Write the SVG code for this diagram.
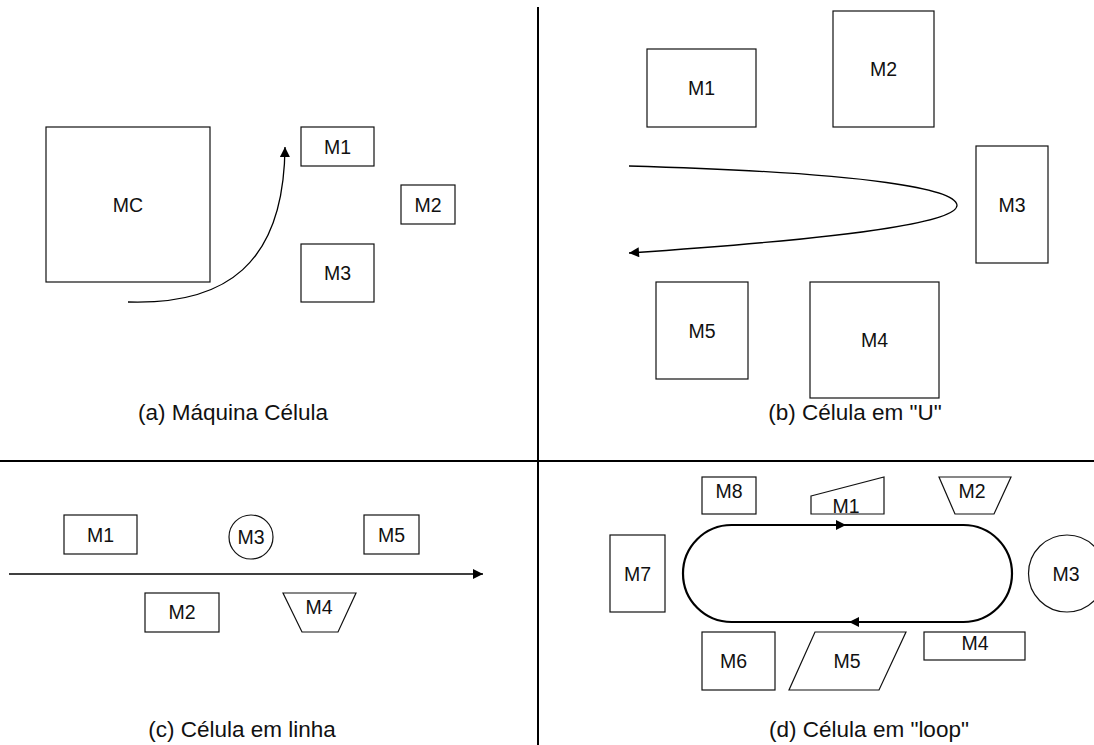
<svg xmlns="http://www.w3.org/2000/svg" width="1094" height="745" viewBox="0 0 1094 745">
  <style>
    .box { fill: #fff; stroke: #111; stroke-width: 1.2; }
    .lbl { font-family: "Liberation Sans", Arial, sans-serif; font-size: 19.5px; fill: #111; text-anchor: middle; dominant-baseline: central; }
    .cap { font-family: "Liberation Sans", Arial, sans-serif; font-size: 22.5px; fill: #111; text-anchor: middle; }
    .flow { fill: none; stroke: #000; stroke-width: 1.3; }
    .loop { fill: none; stroke: #000; stroke-width: 2.2; }
    .div { stroke: #000; stroke-width: 2; }
  </style>
  <defs>
    <marker id="arrow" viewBox="0 0 10 10" refX="10" refY="5" markerWidth="11" markerHeight="10" markerUnits="userSpaceOnUse" orient="auto">
      <path d="M0,0 L10,5 L0,10 Z" fill="#000"/>
    </marker>
  </defs>
  <rect width="1094" height="745" fill="#fff"/>

  <!-- quadrant dividers -->
  <g id="dividers">
    <line class="div" x1="538" y1="7" x2="538" y2="745"/>
    <line class="div" x1="0" y1="461" x2="1094" y2="461"/>
  </g>

  <!-- (a) machine cell -->
  <g id="a-MC"><rect class="box" x="46" y="127" width="164" height="155"/><text class="lbl" x="128" y="204.5">MC</text></g>
  <g id="a-M1"><rect class="box" x="301" y="127" width="73" height="39"/><text class="lbl" x="337.5" y="146.5">M1</text></g>
  <g id="a-M2"><rect class="box" x="401" y="185" width="54" height="39"/><text class="lbl" x="428" y="204.5">M2</text></g>
  <g id="a-M3"><rect class="box" x="301" y="244" width="73" height="58"/><text class="lbl" x="337.5" y="273">M3</text></g>
  <text class="cap" x="233" y="420">(a) Máquina Célula</text>

  <!-- (b) U-shaped cell -->
  <g id="b-M1"><rect class="box" x="647" y="49" width="109" height="78"/><text class="lbl" x="701.5" y="88">M1</text></g>
  <g id="b-M2"><rect class="box" x="833" y="11" width="101" height="116"/><text class="lbl" x="883.5" y="69">M2</text></g>
  <g id="b-M3"><rect class="box" x="976" y="146" width="72" height="117"/><text class="lbl" x="1012" y="204.5">M3</text></g>
  <g id="b-M5"><rect class="box" x="656" y="282" width="92" height="97"/><text class="lbl" x="702" y="330.5">M5</text></g>
  <g id="b-M4"><rect class="box" x="810" y="282" width="129" height="116"/><text class="lbl" x="874.5" y="340">M4</text></g>
  <text class="cap" x="855" y="420">(b) Célula em "U"</text>

  <!-- (c) line cell -->
  <g id="c-M1"><rect class="box" x="64" y="515" width="73" height="39"/><text class="lbl" x="100.5" y="535">M1</text></g>
  <g id="c-M3"><circle class="box" cx="251" cy="537" r="22"/><text class="lbl" x="251" y="537">M3</text></g>
  <g id="c-M5"><rect class="box" x="364" y="515" width="55" height="39"/><text class="lbl" x="391.5" y="535">M5</text></g>
  <g id="c-M2"><rect class="box" x="145" y="593" width="74" height="39"/><text class="lbl" x="182" y="612">M2</text></g>
  <g id="c-M4"><polygon class="box" points="283,593 356,593 338,632 302,632"/><text class="lbl" x="319" y="607">M4</text></g>
  <text class="cap" x="242" y="737">(c) Célula em linha</text>

  <!-- (d) loop cell -->
  <g id="d-M8"><rect class="box" x="702" y="477" width="54" height="37"/><text class="lbl" x="729" y="491">M8</text></g>
  <g id="d-M1"><polygon class="box" points="811,496 884,477 884,514 811,514"/><text class="lbl" x="846" y="506">M1</text></g>
  <g id="d-M2"><polygon class="box" points="939,477 1011,477 994,514 955,514"/><text class="lbl" x="972" y="491">M2</text></g>
  <g id="d-M7"><rect class="box" x="610" y="535" width="55" height="77"/><text class="lbl" x="637.5" y="574">M7</text></g>
  <g id="d-M3"><circle class="box" cx="1067" cy="573.5" r="38.5"/><text class="lbl" x="1066" y="574">M3</text></g>
  <g id="d-M6"><rect class="box" x="702" y="632" width="73" height="58"/><text class="lbl" x="733.5" y="660.5">M6</text></g>
  <g id="d-M5"><polygon class="box" points="815,632 906,632 879,690 789,690"/><text class="lbl" x="847" y="660.5">M5</text></g>
  <g id="d-M4"><rect class="box" x="924" y="632" width="101" height="28"/><text class="lbl" x="975" y="643">M4</text></g>
  <text class="cap" x="869" y="737">(d) Célula em "loop"</text>

  <!-- material flow -->
  <g id="connectors">
    <path class="flow" d="M128,302 C225,305 284,265 285,147" marker-end="url(#arrow)"/>
    <path class="flow" d="M629,166 C880,173 955,190 957,205 C958,220 880,236 629,253" marker-end="url(#arrow)"/>
    <line class="flow" x1="9" y1="574" x2="483" y2="574" marker-end="url(#arrow)"/>
    <path class="loop" d="M731.5,525 L963.5,525 A48.5,48.5 0 0 1 963.5,622 L731.5,622 A48.5,48.5 0 0 1 731.5,525 Z"/>
    <polygon points="836,520 846,525 836,530" fill="#000"/>
    <polygon points="859,617 849,622 859,627" fill="#000"/>
  </g>
</svg>
